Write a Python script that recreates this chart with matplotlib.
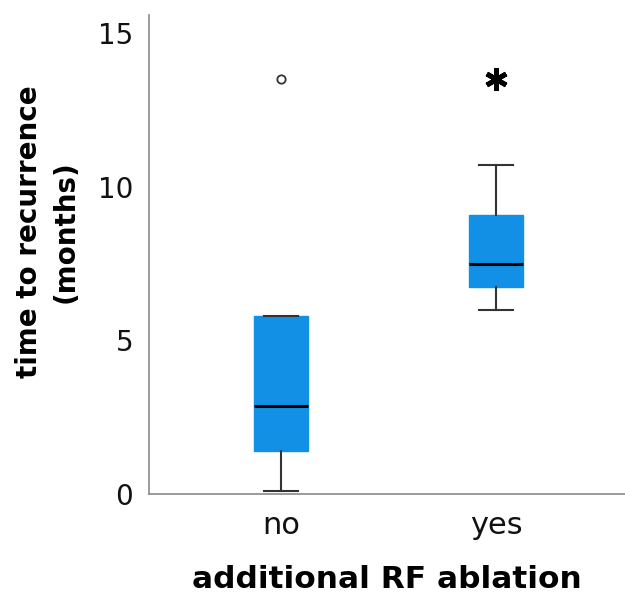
import matplotlib
matplotlib.use("Agg")
import matplotlib.pyplot as plt

# box summary (months)
groups = ["no", "yes"]
whislo = [0.1, 6.0]
q1 = [1.4, 6.75]
med = [2.85, 7.5]
q3 = [5.8, 9.1]
whishi = [5.8, 10.7]
outliers = [[13.5], []]     # circles
extremes = [[], [13.5]]     # stars

yticks = [0, 5, 10, 15]

box_color = "#1190e6"
spine_color = "#8a8a8a"

stats = []
for i, g in enumerate(groups):
    stats.append(dict(label=g, whislo=whislo[i], q1=q1[i], med=med[i],
                      q3=q3[i], whishi=whishi[i], fliers=outliers[i]))

fig = plt.figure(figsize=(6.25, 5.96), dpi=100)
ax = fig.add_axes([0.2376, 0.1711, 0.7624, 0.804])

pos = [1, 2]
ax.bxp(stats, positions=pos, widths=0.25, patch_artist=True,
       boxprops=dict(facecolor=box_color, edgecolor=box_color, linewidth=1),
       medianprops=dict(color="black", linewidth=2.2),
       whiskerprops=dict(color="#333333", linewidth=1.5),
       capprops=dict(color="#333333", linewidth=1.5),
       capwidths=0.16,
       flierprops=dict(marker="o", markersize=6, markerfacecolor="white",
                       markeredgecolor="#333333", markeredgewidth=1.3))

# extreme values drawn as asterisks
for p, ex in zip(pos, extremes):
    if ex:
        ax.plot([p] * len(ex), ex, linestyle="none", marker=(6, 2, 0),
                markersize=16, markeredgewidth=3.5, color="black")

ax.set_xlim(0.384, 2.6)
ax.set_ylim(0, 15.6)
ax.set_yticks(yticks)
ax.set_xticks(pos)
ax.set_xticklabels(groups)

for s in ["top", "right"]:
    ax.spines[s].set_visible(False)
for s in ["left", "bottom"]:
    ax.spines[s].set_color(spine_color)
    ax.spines[s].set_linewidth(1.2)

ax.tick_params(axis="both", length=0, colors="#111111")
ax.tick_params(axis="y", pad=11, labelsize=20)
ax.tick_params(axis="x", pad=12, labelsize=22)

ax.set_ylabel("time to recurrence\n(months)", fontsize=20, fontweight="bold",
              linespacing=1.4)
ax.yaxis.set_label_coords(-0.145, 0.547)
ax.set_xlabel("additional RF ablation", fontsize=22.5, fontweight="bold",
              labelpad=18)

fig.savefig("out.png", dpi=100)
